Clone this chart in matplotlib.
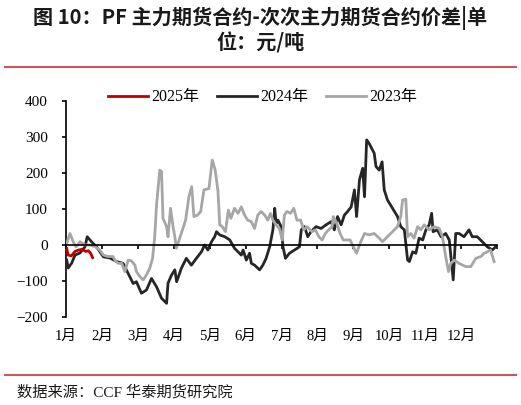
import matplotlib.pyplot as plt
from matplotlib.lines import Line2D

plt.rcParams['font.family'] = ['Liberation Serif', 'Noto Sans CJK SC']

# x 为月份位置 (0 = 1月初)
months = ['1月', '2月', '3月', '4月', '5月', '6月',
          '7月', '8月', '9月', '10月', '11月', '12月']

x2025 = [0.02, 0.06, 0.15, 0.25, 0.35, 0.45, 0.55, 0.62, 0.68, 0.74]
y2025 = [-10, -28, -30, -18, -14, -12, -18, -16, -22, -35]

x2024 = [0.02, 0.06, 0.16, 0.25, 0.39, 0.53, 0.59, 0.71, 0.85, 1.04,
         1.22, 1.41, 1.59, 1.73, 1.87, 1.96, 2.10, 2.24, 2.38, 2.52,
         2.66, 2.80, 2.84, 2.94, 3.03, 3.08, 3.21, 3.35, 3.49, 3.63,
         3.77, 3.86, 3.95, 4.05, 4.14, 4.19, 4.28, 4.42, 4.56, 4.69,
         4.79, 4.88, 4.93, 5.02, 5.11, 5.16, 5.25, 5.39, 5.48, 5.57,
         5.67, 5.76, 5.81, 5.85, 5.90, 5.99, 6.04, 6.11, 6.22, 6.36,
         6.50, 6.55, 6.64, 6.73, 6.82, 6.96, 7.10, 7.24, 7.38, 7.47,
         7.56, 7.66, 7.75, 7.84, 7.94, 8.03, 8.09, 8.17, 8.26, 8.31,
         8.37, 8.44, 8.58, 8.63, 8.72, 8.80, 8.86, 8.95, 9.09, 9.23,
         9.32, 9.42, 9.51, 9.56, 9.65, 9.74, 9.83, 9.93, 10.02, 10.11,
         10.18, 10.22, 10.34, 10.44, 10.57, 10.67, 10.78, 10.85, 10.94, 11.08,
         11.22, 11.31, 11.45, 11.59, 11.73, 11.87, 11.96]
y2024 = [-42, -64, -50, -28, -22, -5, 23, 9, -5, -33,
         -36, -46, -51, -79, -107, -102, -134, -125, -93, -116,
         -148, -162, -106, -83, -69, -102, -65, -37, -56, -37,
         -19, 0, -14, 9, 23, 37, 28, 23, 14, -9,
         -19, -28, -14, -42, -23, -51, -56, -69, -56, -37,
         -5, 42, 102, 60, 69, 51, -5, -37, -23, -14,
         -5, 42, 51, 23, 37, 51, 46, 56, 65, 42,
         79, 56, 83, 93, 106, 153, 79, 181, 213, 134,
         292, 282, 255, 218, 208, 231, 153, 125, 102, 79,
         51, 42, -42, -46, -19, -23, 19, 14, 42, 56,
         88, 37, 42, 23, 32, 14, -97, 32, 32, 23,
         42, 23, 23, 9, -5, -14, -5]

x2023 = [0.02, 0.11, 0.20, 0.28, 0.39, 0.53, 0.67, 0.81, 0.94, 1.04,
         1.17, 1.31, 1.36, 1.45, 1.55, 1.64, 1.73, 1.82, 1.92, 1.96,
         2.06, 2.15, 2.24, 2.33, 2.41, 2.47, 2.52, 2.56, 2.61, 2.66,
         2.70, 2.80, 2.84, 2.91, 2.98, 3.03, 3.07, 3.15, 3.24, 3.33,
         3.42, 3.50, 3.56, 3.66, 3.75, 3.84, 3.98, 4.07, 4.15, 4.23,
         4.28, 4.35, 4.44, 4.52, 4.59, 4.69, 4.79, 4.88, 4.97, 5.06,
         5.16, 5.25, 5.34, 5.43, 5.53, 5.62, 5.69, 5.76, 5.85, 5.94,
         6.02, 6.08, 6.15, 6.25, 6.34, 6.43, 6.53, 6.62, 6.71, 6.85,
         6.94, 7.04, 7.13, 7.22, 7.31, 7.41, 7.44, 7.54, 7.63, 7.72,
         7.81, 7.91, 8.00, 8.09, 8.19, 8.31, 8.44, 8.58, 8.72, 8.81,
         8.95, 9.09, 9.23, 9.32, 9.37, 9.46, 9.51, 9.60, 9.69, 9.79,
         9.88, 9.97, 10.11, 10.25, 10.39, 10.48, 10.57, 10.65, 10.71, 10.81,
         10.94, 11.13, 11.27, 11.41, 11.55, 11.64, 11.73, 11.82, 11.92]
y2023 = [5, 32, 9, -5, 9, 0, 0, -5, -14, -28,
         -32, -32, -42, -51, -51, -74, -42, -44, -56, -74,
         -88, -97, -83, -65, -37, 23, 111, 153, 208, 204,
         74, 51, 23, 102, 51, 23, -9, 14, 42, 69,
         134, 162, 79, 83, 93, 153, 157, 236, 210, 150,
         56, 51, 37, 97, 74, 102, 88, 106, 83, 69,
         65, 46, 83, 93, 83, 69, 88, 69, 56, 46,
         14, 83, 93, 88, 102, 69, 69, 42, 51, 37,
         42, 23, 14, 32, 42, 51, 79, 60, 32, 14,
         14, 14, -5, -23, 5, 32, 28, 32, 19, 9,
         23, 37, 51, 79, 125, 127, 23, 32, 19, 51,
         42, 56, 42, 51, 46, 23, -32, -74, -51, -42,
         -51, -60, -60, -37, -32, -23, -19, -14, -46]

fig = plt.figure(figsize=(5.21, 4.05), dpi=100)
ax = fig.add_axes([0.1267, 0.2173, 0.8273, 0.5333])

ax.plot(x2025, y2025, color='#C00000', lw=2.0, label='2025年', zorder=5)
ax.plot(x2024, y2024, color='#262626', lw=2.0, label='2024年', zorder=3)
ax.plot(x2023, y2023, color='#A6A6A6', lw=2.0, label='2023年', zorder=4)

ax.set_xlim(0, 12)
ax.set_ylim(-200, 400)
ax.set_yticks(range(-200, 401, 100))
ax.set_xticks(range(13))
ax.set_xticklabels(months + [''])

for s in ['top', 'right']:
    ax.spines[s].set_visible(False)
ax.spines['bottom'].set_position(('data', 0))
ax.spines['bottom'].set_zorder(6)
for s in ['bottom', 'left']:
    ax.spines[s].set_linewidth(1.2)

ax.tick_params(axis='y', direction='out', length=3, width=1.2, labelsize=11, pad=10)
ax.tick_params(axis='x', direction='out', length=3, width=1.2, labelsize=10.5, pad=58)

ax.legend(loc='center', bbox_to_anchor=(0.456, 1.018), ncol=3, frameon=False,
          fontsize=11.5, handlelength=2.5, handletextpad=0.2, columnspacing=1.1,
          borderpad=0)

# 标题
fig.text(0.5, 1 - 18 / 405, '图 10：PF 主力期货合约-次次主力期货合约价差|单',
         ha='center', va='center', fontsize=14.5, fontweight='bold',
         family=['Noto Sans CJK SC'], color='#1a1a1a')
fig.text(0.5, 1 - 43 / 405, '位：元/吨',
         ha='center', va='center', fontsize=14.5, fontweight='bold',
         family=['Noto Sans CJK SC'], color='#1a1a1a')

fig.add_artist(Line2D([0.01, 0.99], [1 - 67 / 405, 1 - 67 / 405], color='#C55A5A', lw=1.5))
fig.add_artist(Line2D([0.01, 0.99], [1 - 375 / 405, 1 - 375 / 405], color='#C55A5A', lw=1.5))

fig.text(17 / 521, 1 - 392 / 405, '数据来源：CCF 华泰期货研究院', ha='left', va='center',
         fontsize=11, color='#1a1a1a')

fig.savefig('out.png', dpi=100)
